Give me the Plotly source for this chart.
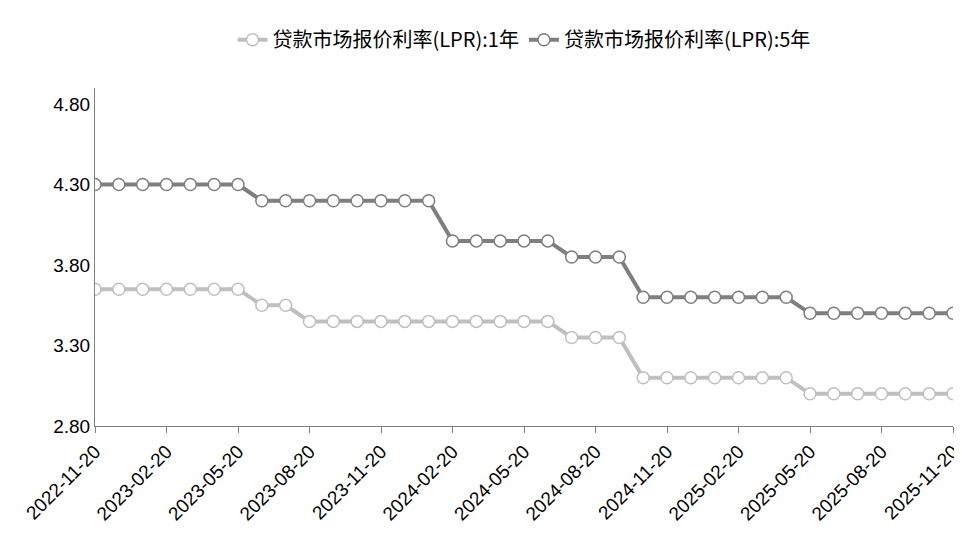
import plotly.graph_objects as go
import pandas as pd

dates = [d.strftime("%Y-%m-%d") for d in pd.date_range("2022-11-01", periods=37, freq="MS") + pd.Timedelta(days=19)]
lpr1 = [3.65]*7 + [3.55]*2 + [3.45]*11 + [3.35]*3 + [3.10]*7 + [3.00]*7
lpr5 = [4.30]*7 + [4.20]*8 + [3.95]*5 + [3.85]*3 + [3.60]*7 + [3.50]*7
names = ["贷款市场报价利率(LPR):1年", "贷款市场报价利率(LPR):5年"]
colors = ["#BFBFBF", "#7F7F7F"]

fig = go.Figure()
for y, n, c in zip([lpr1, lpr5], names, colors):
    fig.add_trace(go.Scatter(x=dates, y=y, name=n, mode="lines+markers",
        line=dict(color=c, width=4),
        marker=dict(size=12, color="white", line=dict(color=c, width=1.5))))
fig.update_layout(
    width=962, height=535, plot_bgcolor="white", paper_bgcolor="white",
    margin=dict(l=87, r=17, t=68, b=117),
    font=dict(family="Noto Sans CJK SC", size=17, color="black"),
    legend=dict(orientation="h", x=0.5, xanchor="center", y=1.143, yanchor="middle",
                font=dict(size=20)),
    showlegend=True,
)
fig.update_xaxes(type="category", tickvals=dates[::3], ticktext=dates[::3], tickangle=-45,
    showline=True, linecolor="#808080", ticks="outside", ticklen=6, tickcolor="#808080",
    showgrid=False, range=[0, 36], automargin=False,
    tickfont=dict(family="Liberation Sans", size=19))
fig.update_yaxes(range=[2.8, 4.9], tickvals=[2.8, 3.3, 3.8, 4.3, 4.8], tickformat=".2f",
    showline=True, linecolor="#808080", showgrid=False, ticks="outside", ticklen=0,
    automargin=False, tickfont=dict(family="Liberation Sans", size=19))
fig.write_html("out.html")
